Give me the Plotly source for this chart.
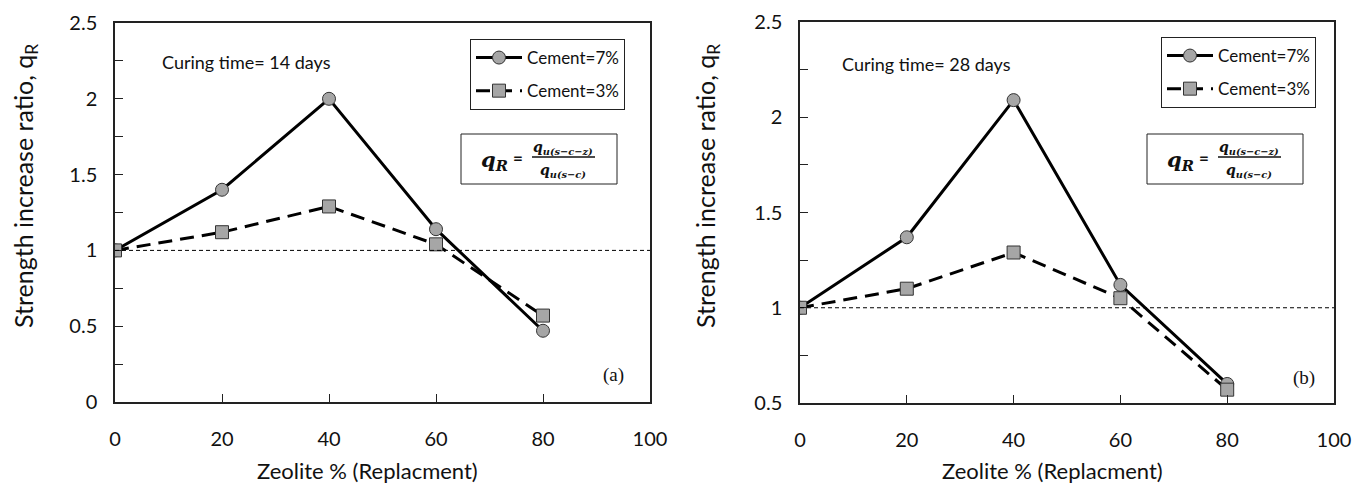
import plotly.graph_objects as go

# Zeolite replacement levels (%)
zeolite = [0, 20, 40, 60, 80]

# Strength increase ratio q_R, 14 days curing
qr14_c7 = [1.00, 1.40, 2.00, 1.14, 0.47]
qr14_c3 = [1.00, 1.12, 1.29, 1.04, 0.57]

# Strength increase ratio q_R, 28 days curing
qr28_c7 = [1.00, 1.37, 2.09, 1.12, 0.60]
qr28_c3 = [1.00, 1.10, 1.29, 1.05, 0.57]

series_names = ["Cement=7%", "Cement=3%"]
panel_notes = ["Curing time= 14 days", "Curing time= 28 days"]
panel_tags = ["(a)", "(b)"]

W, H = 1354, 484
FONT = "Lato"
GRAY = "#a6a6a6"

fig = go.Figure()


def px(xp):
    return xp / W


def py(yp):
    return 1 - yp / H


panels = [
    dict(xa="x", ya="y", legend="legend", data=(qr14_c7, qr14_c3)),
    dict(xa="x2", ya="y2", legend="legend2", data=(qr28_c7, qr28_c3)),
]

for p in panels:
    c7, c3 = p["data"]
    fig.add_trace(go.Scatter(
        x=zeolite, y=c7, name=series_names[0], mode="lines+markers",
        xaxis=p["xa"], yaxis=p["ya"], legend=p["legend"], legendgroup="a",
        line=dict(color="black", width=3),
        marker=dict(symbol="circle", size=13, color=GRAY,
                    line=dict(color="#333333", width=1)),
    ))
    fig.add_trace(go.Scatter(
        x=zeolite, y=c3, name=series_names[1], mode="lines+markers",
        xaxis=p["xa"], yaxis=p["ya"], legend=p["legend"], legendgroup="b",
        line=dict(color="black", width=3, dash="14px,8px"),
        marker=dict(symbol="square", size=13, color=GRAY,
                    line=dict(color="#333333", width=1)),
    ))
    # reference line at q_R = 1
    fig.add_shape(type="line", xref=p["xa"], yref=p["ya"],
                  x0=0, x1=100, y0=1, y1=1,
                  line=dict(color="black", width=1, dash="4px,3px"))

axis_common = dict(
    showline=True, linecolor="#222222", linewidth=1.5, mirror=True,
    ticks="inside", ticklen=8, tickwidth=1, tickcolor="#222222",
    showgrid=False, zeroline=False, automargin=False,
    ticklabeloverflow="allow",
    tickfont=dict(family=FONT, size=20, color="#111111"),
)

fig.update_layout(
    width=W, height=H,
    margin=dict(l=0, r=0, t=0, b=0, autoexpand=False),
    paper_bgcolor="white", plot_bgcolor="white",
    font=dict(family=FONT, color="#111111"),
    xaxis=dict(domain=[px(115), px(650)], range=[0, 100], dtick=20,
               anchor="y", ticklabelstandoff=18, **axis_common),
    yaxis=dict(domain=[py(402), py(23)], range=[0, 2.5], dtick=0.5,
               anchor="x", ticklabelstandoff=12,
               minor=dict(dtick=0.25, ticks="inside", ticklen=8,
                          tickcolor="#222222"),
               **axis_common),
    xaxis2=dict(domain=[px(800), px(1334)], range=[0, 100], dtick=20,
                anchor="y2", ticklabelstandoff=18, **axis_common),
    yaxis2=dict(domain=[py(403), py(22)], range=[0.5, 2.5], dtick=0.5,
                anchor="x2", ticklabelstandoff=12,
                minor=dict(dtick=0.25, ticks="inside", ticklen=8,
                           tickcolor="#222222"),
                **axis_common),
    legend=dict(x=px(470), y=py(39), xanchor="left", yanchor="top",
                bordercolor="#222222", borderwidth=1, bgcolor="white",
                font=dict(family=FONT, size=17), tracegroupgap=8,
                itemwidth=46),
    legend2=dict(x=px(1161), y=py(37), xanchor="left", yanchor="top",
                 bordercolor="#222222", borderwidth=1, bgcolor="white",
                 font=dict(family=FONT, size=17), tracegroupgap=8,
                 itemwidth=46),
    showlegend=True,
)

annotations = []
shapes = []


def note(x, y, text, size, family=FONT, angle=0, xanchor="center"):
    annotations.append(dict(
        x=px(x), y=py(y), xref="paper", yref="paper",
        xanchor=xanchor, yanchor="middle", text=text, textangle=angle,
        showarrow=False, font=dict(family=family, size=size, color="#111111"),
    ))


# per-panel geometry in pixels
geo = [
    dict(l=115, r=650, note_x=160, note_y=62, tag_x=613, tag_y=375, box_x=461, ytitle_x=25),
    dict(l=800, r=1334, note_x=840, note_y=64, tag_x=1304, tag_y=378, box_x=1147, ytitle_x=707),
]

serif = "DejaVu Serif"
for i, g in enumerate(geo):
    # axis titles
    note(g["ytitle_x"], 186, "Strength increase ratio, q<sub>R</sub>", 25, angle=-90)
    note((g["l"] + g["r"]) / 2 - 15, 470, "Zeolite % (Replacment)", 22)
    # curing note and panel tag
    note(g["note_x"], g["note_y"], panel_notes[i], 18, xanchor="left")
    note(g["tag_x"], g["tag_y"], panel_tags[i], 19, family="Liberation Serif")

    # q_R definition in a framed box
    bx = g["box_x"]
    shapes.append(dict(type="rect", xref="paper", yref="paper",
                       x0=px(bx), x1=px(bx + 156), y0=py(184), y1=py(134),
                       line=dict(color="#222222", width=1), fillcolor="white",
                       layer="below"))
    note(bx + 33, 160, "<b><i>q<sub>R</sub></i></b>", 21, family=serif)
    note(bx + 57, 157, "<b>=</b>", 17)
    note(bx + 102, 148, "<b><i>q<sub>u(s−c−z)</sub></i></b>", 14, family=serif)
    note(bx + 102, 171, "<b><i>q<sub>u(s−c)</sub></i></b>", 14, family=serif)
    shapes.append(dict(type="line", xref="paper", yref="paper",
                       x0=px(bx + 71), x1=px(bx + 134), y0=py(157), y1=py(157),
                       line=dict(color="#111111", width=1.5)))

fig.update_layout(annotations=annotations)
for s in shapes:
    fig.add_shape(**s)

fig.write_html("out.html")
